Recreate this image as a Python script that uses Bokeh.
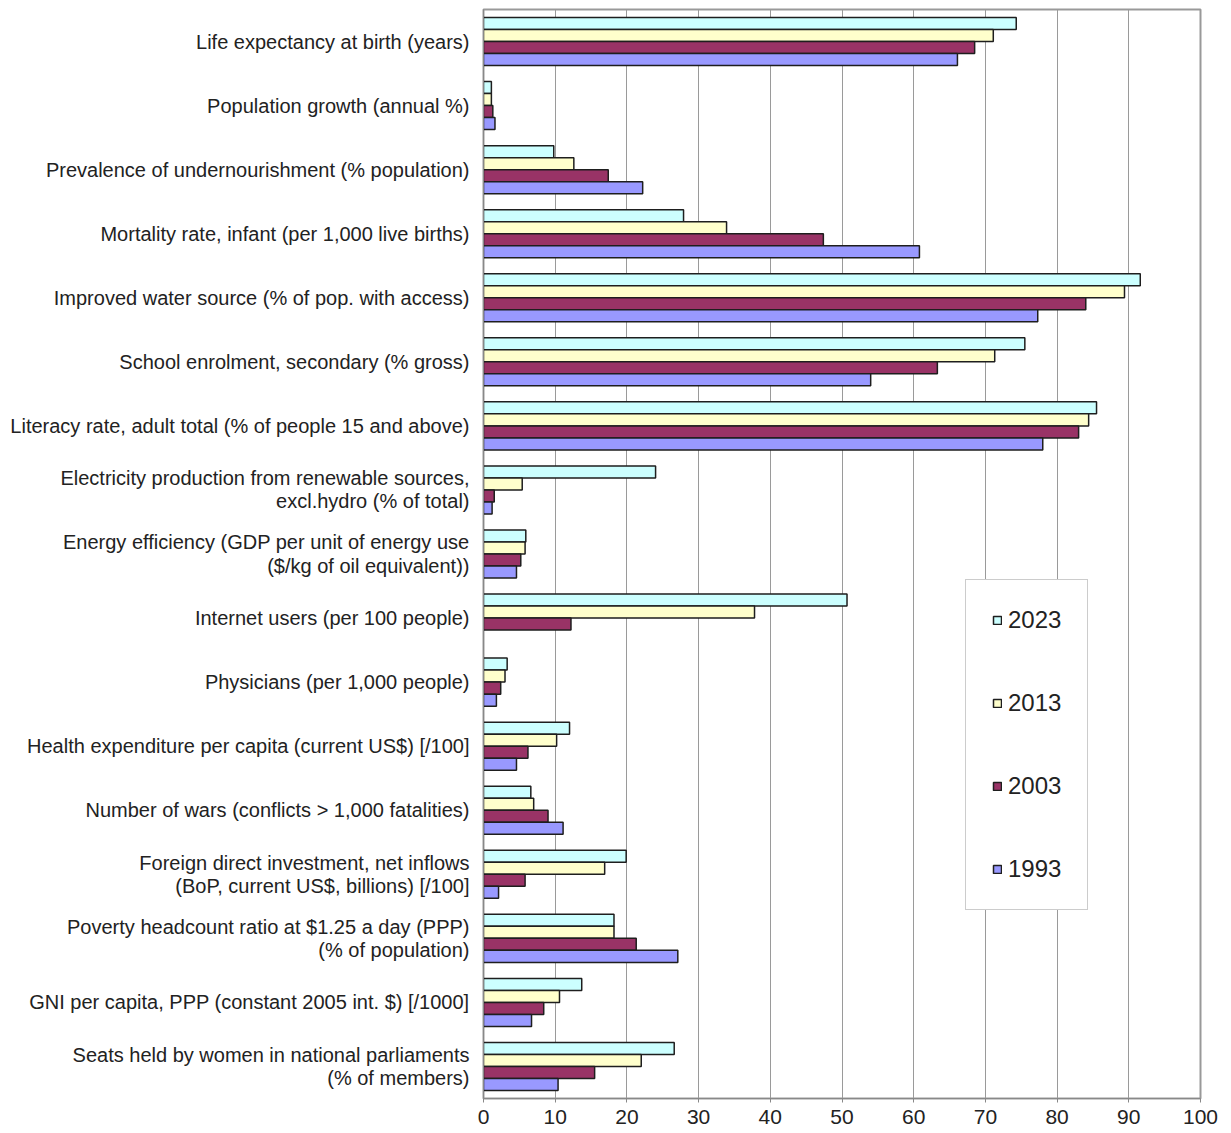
from bokeh.plotting import figure
from bokeh.models import ColumnDataSource, FactorRange, Legend, LegendItem, FixedTicker
from bokeh.transform import dodge
from bokeh.embed import file_html
from bokeh.resources import INLINE

categories = [
    "Life expectancy at birth (years)",
    "Population growth (annual %)",
    "Prevalence of undernourishment (% population)",
    "Mortality rate, infant (per 1,000 live births)",
    "Improved water source (% of pop. with access)",
    "School enrolment, secondary (% gross)",
    "Literacy rate, adult total (% of people 15 and above)",
    "Electricity production from renewable sources,\nexcl.hydro (% of total)",
    "Energy efficiency (GDP per unit of energy use\n($/kg of oil equivalent))",
    "Internet users (per 100 people)",
    "Physicians (per 1,000 people)",
    "Health expenditure per capita (current US$) [/100]",
    "Number of wars (conflicts > 1,000 fatalities)",
    "Foreign direct investment, net inflows\n(BoP, current US$, billions) [/100]",
    "Poverty headcount ratio at $1.25 a day (PPP)\n(% of population)",
    "GNI per capita, PPP (constant 2005 int. $) [/1000]",
    "Seats held by women in national parliaments\n(% of members)",
]

years = ["2023", "2013", "2003", "1993"]

v2023 = [74.3, 1.1, 9.8, 27.9, 91.6, 75.5, 85.5, 24.0, 5.9, 50.7, 3.3, 12.0, 6.6, 19.9, 18.2, 13.7, 26.6]
v2013 = [71.1, 1.1, 12.6, 33.9, 89.4, 71.3, 84.4, 5.4, 5.8, 37.8, 3.0, 10.2, 7.0, 16.9, 18.2, 10.6, 22.0]
v2003 = [68.5, 1.3, 17.4, 47.4, 84.0, 63.3, 83.0, 1.5, 5.2, 12.2, 2.4, 6.2, 9.0, 5.8, 21.3, 8.4, 15.5]
v1993 = [66.1, 1.6, 22.2, 60.8, 77.3, 54.0, 78.0, 1.2, 4.6, None, 1.8, 4.6, 11.1, 2.1, 27.1, 6.7, 10.4]

x_ticks = [0, 10, 20, 30, 40, 50, 60, 70, 80, 90, 100]

colors = ["#CCFFFF", "#FFFFCC", "#993366", "#9999FF"]

src = ColumnDataSource(dict(
    cat=categories,
    v2023=[float("nan") if v is None else v for v in v2023],
    v2013=[float("nan") if v is None else v for v in v2013],
    v2003=[float("nan") if v is None else v for v in v2003],
    v1993=[float("nan") if v is None else v for v in v1993],
))

p = figure(
    width=1223, height=1133,
    y_range=FactorRange(*reversed(categories)),
    x_range=(0, 100),
    output_backend="svg", toolbar_location=None,
    min_border_left=483, min_border_right=23, min_border_top=9, min_border_bottom=35,
)

bar_h = 0.1875
offsets = [1.5 * bar_h, 0.5 * bar_h, -0.5 * bar_h, -1.5 * bar_h]
renderers = []
for yr, off, col in zip(years, offsets, colors):
    r = p.hbar(y=dodge("cat", off, range=p.y_range), right="v" + yr, left=0,
               height=bar_h, source=src, fill_color=col,
               line_color="#1e1e1e", line_width=1.5)
    renderers.append(r)

legend = Legend(
    items=[LegendItem(label=yr, renderers=[r]) for yr, r in zip(years, renderers)],
    location=(482, 188),
    orientation="vertical",
    glyph_width=10, glyph_height=10,
    label_height=28, spacing=55, padding=26, margin=0,
    label_standoff=6,
    label_text_font="Liberation Sans", label_text_font_size="24px",
    label_text_color="#222222",
    border_line_color="#999999", border_line_width=1,
    background_fill_color="white", background_fill_alpha=1.0,
)
p.add_layout(legend, "center")

p.xaxis.ticker = FixedTicker(ticks=x_ticks)
p.xgrid.ticker = FixedTicker(ticks=x_ticks)
p.xgrid.grid_line_color = "#9a9a9a"
p.xgrid.grid_line_width = 1
p.ygrid.grid_line_color = None

p.xaxis.major_label_text_font = "Liberation Sans"
p.xaxis.major_label_text_font_size = "21px"
p.xaxis.major_label_text_color = "#222222"
p.xaxis.axis_line_color = "#888888"
p.xaxis.major_tick_line_color = "#888888"
p.xaxis.major_tick_out = 4
p.xaxis.major_tick_in = 0
p.xaxis.minor_tick_line_color = None
p.xaxis.major_label_standoff = 7

p.yaxis.major_label_text_font = "Liberation Sans"
p.yaxis.major_label_text_font_size = "20px"
p.yaxis.major_label_text_line_height = 1.05
p.yaxis.major_label_text_color = "#222222"
p.yaxis.axis_line_color = "#888888"
p.yaxis.major_tick_line_color = None
p.yaxis.major_label_standoff = 8

p.outline_line_color = "#999999"
p.outline_line_width = 2
p.background_fill_color = "white"
p.border_fill_color = "white"

open("out.html", "w").write(file_html(p, INLINE))
